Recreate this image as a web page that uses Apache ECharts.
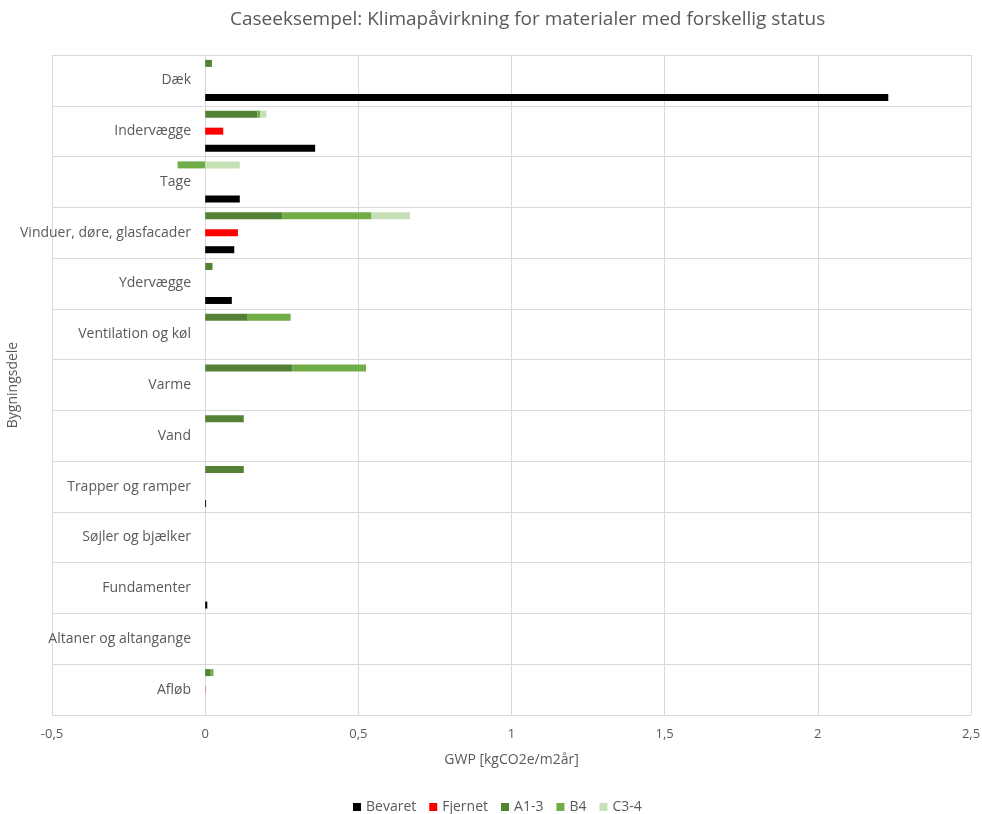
<!DOCTYPE html>
<html>
<head>
<meta charset="utf-8">
<script src="https://cdn.jsdelivr.net/npm/echarts@6/dist/echarts.min.js"></script>
<style>
  html, body { margin: 0; padding: 0; background: #ffffff; }
  #chart { width: 982px; height: 814px; }
</style>
</head>
<body>
<div id="chart"></div>
<script>
// Building parts, top to bottom
const categories = [
  'Dæk', 'Indervægge', 'Tage', 'Vinduer, døre, glasfacader', 'Ydervægge',
  'Ventilation og køl', 'Varme', 'Vand', 'Trapper og ramper',
  'Søjler og bjælker', 'Fundamenter', 'Altaner og altangange', 'Afløb'
];

// GWP per material status [kgCO2e/m2år]
const bevaret = [2.23, 0.359, 0.113, 0.095, 0.087, 0, 0, 0, 0.003, 0, 0.007, 0, 0];
const fjernet = [0, 0.059, 0, 0.107, 0, 0, 0, 0, 0, 0, 0, 0, 0.001];
const a13     = [0.022, 0.171, 0, 0.252, 0.024, 0.139, 0.284, 0.126, 0.126, 0, 0, 0, 0.016];
const b4      = [0, 0.009, -0.09, 0.291, 0, 0.14, 0.241, 0, 0, 0, 0, 0, 0.011];
const c34     = [0, 0.02, 0.113, 0.126, 0, 0, 0, 0, 0, 0, 0, 0, 0];

const xTicks = { min: -0.5, max: 2.5, step: 0.5 };

const FONT = '"Open Sans", "Liberation Sans", sans-serif';
const TEXT = '#595959';
const GRID = '#d9d9d9';

const GRID_LEFT = 52;
const GRID_RIGHT = 11;
const CHART_W = 982;
// distance from the grid's left edge to the x = 0 line, so the category labels sit on zero
const plotW = CHART_W - GRID_LEFT - GRID_RIGHT;
const zeroShift = Math.round(plotW * (0 - xTicks.min) / (xTicks.max - xTicks.min));

const chart = echarts.init(document.getElementById('chart'), null, { renderer: 'canvas' });

const barBase = { barWidth: 7, barGap: '143%', barCategoryGap: 0, animation: false };

chart.setOption({
  animation: false,
  title: {
    text: 'Caseeksempel: Klimapåvirkning for materialer med forskellig status',
    left: 225,
    top: 5,
    textStyle: { fontFamily: FONT, fontSize: 19, fontWeight: 'normal', color: TEXT }
  },
  legend: {
    data: ['Bevaret', 'Fjernet', 'A1-3', 'B4', 'C3-4'],
    top: 795,
    left: 348,
    itemWidth: 8,
    itemHeight: 8,
    itemGap: 13,
    icon: 'rect',
    textStyle: { fontFamily: FONT, fontSize: 14, color: TEXT }
  },
  grid: { left: GRID_LEFT, right: GRID_RIGHT, top: 55, bottom: 99, containLabel: false, outerBoundsMode: 'none' },
  xAxis: {
    type: 'value',
    min: xTicks.min,
    max: xTicks.max,
    interval: xTicks.step,
    name: 'GWP [kgCO2e/m2år]',
    nameLocation: 'middle',
    nameGap: 38,
    nameTextStyle: { fontFamily: FONT, fontSize: 14, color: TEXT },
    axisLine: { show: false },
    axisTick: { show: false },
    axisLabel: {
      fontFamily: FONT, fontSize: 13, color: TEXT, margin: 13,
      formatter: v => String(Math.round(v * 10) / 10).replace('.', ',')
    },
    splitLine: { show: true, lineStyle: { color: GRID, width: 1 } }
  },
  yAxis: [
    {
      // grid lines between the building parts, and the axis title
      type: 'category',
      data: categories,
      inverse: true,
      name: 'Bygningsdele',
      nameLocation: 'middle',
      nameRotate: 90,
      nameGap: 32,
      nameTextStyle: { fontFamily: FONT, fontSize: 14, color: TEXT },
      axisLine: { show: false },
      axisTick: { show: false },
      axisLabel: { show: false },
      splitLine: { show: true, lineStyle: { color: GRID, width: 1 } }
    },
    {
      // category labels drawn beside the x = 0 line
      type: 'category',
      data: categories,
      inverse: true,
      position: 'left',
      offset: -zeroShift,
      axisLine: { show: false },
      axisTick: { show: false },
      axisLabel: { fontFamily: FONT, fontSize: 14, color: TEXT, margin: 14 },
      splitLine: { show: false }
    }
  ],
  series: [
    Object.assign({ name: 'A1-3', type: 'bar', stack: 'ny', data: a13, itemStyle: { color: '#548235' } }, barBase),
    Object.assign({ name: 'B4', type: 'bar', stack: 'ny', data: b4, itemStyle: { color: '#70AD47' } }, barBase),
    Object.assign({ name: 'C3-4', type: 'bar', stack: 'ny', data: c34, itemStyle: { color: '#C5E0B4' } }, barBase),
    Object.assign({ name: 'Fjernet', type: 'bar', data: fjernet, itemStyle: { color: '#FF0000' } }, barBase),
    Object.assign({ name: 'Bevaret', type: 'bar', data: bevaret, itemStyle: { color: '#000000' } }, barBase)
  ]
});
</script>
</body>
</html>
